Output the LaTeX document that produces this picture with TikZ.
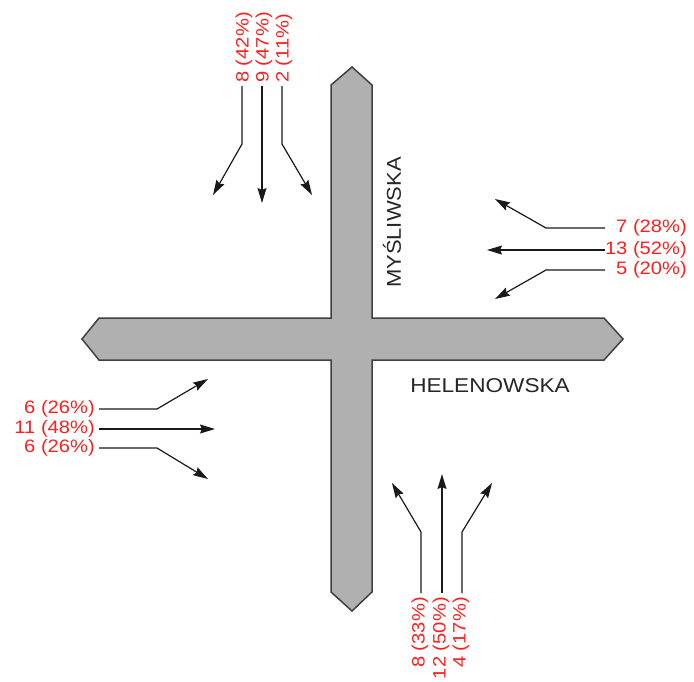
\documentclass[tikz,border=0pt]{standalone}
\usepackage{fontspec}
\setmainfont{Liberation Sans}
\usetikzlibrary{arrows.meta}
\definecolor{roadfill}{RGB}{176,176,176}
\definecolor{roadedge}{RGB}{64,64,64}
\definecolor{lblred}{RGB}{255,30,30}
\tikzset{
  road/.style={fill=roadfill,draw=roadedge,line width=1.5pt,line join=miter},
  arr/.style={draw=black!90,line width=1.2pt,-{Stealth[length=15pt,width=9pt,inset=2pt]}},
  lbl/.style={text=lblred,inner sep=0pt,font=\fontsize{18}{20}\selectfont},
  street/.style={text=black!85,inner sep=0pt,font=\fontsize{20}{22}\selectfont}
}
\newcommand{\wtxt}[1]{\scalebox{1.12}[1]{#1}}
\begin{document}
\begin{tikzpicture}[x=1pt,y=-1pt]
\useasboundingbox (0,0) rectangle (694,681);
% road cross
\draw[road] (352,67) -- (372,85) -- (372,318) -- (604,318) -- (623,339) -- (604,360)
  -- (372,360) -- (372,592) -- (352,611) -- (331,592) -- (331,360) -- (99,360)
  -- (82,339) -- (99,318) -- (331,318) -- (331,85) -- cycle;
% street names
\node[street,rotate=90] (mys) at (392,222.5) {\scalebox{1.1}[1]{MYŚLIWSKA}};
\node[street] (hel) at (490,386) {\scalebox{1.13}[1]{HELENOWSKA}};
% north approach
\coordinate (n1s) at (242,86); \coordinate (n1b) at (242,144); \coordinate (n1e) at (213,195);
\coordinate (n2s) at (262,86); \coordinate (n2e) at (262,203);
\coordinate (n3s) at (282,86); \coordinate (n3b) at (282,144); \coordinate (n3e) at (312,195);
\draw[arr] (n1s) -- (n1b) -- (n1e);
\draw[arr] (n2s) -- (n2e);
\draw[arr] (n3s) -- (n3b) -- (n3e);
\node[lbl,rotate=90,anchor=west] (ln1) at (244,83) {\wtxt{8 (42\%)}};
\node[lbl,rotate=90,anchor=west] (ln2) at (264,83) {\wtxt{9 (47\%)}};
\node[lbl,rotate=90,anchor=west] (ln3) at (284,83) {\wtxt{2 (11\%)}};
% east approach
\coordinate (e1s) at (605,228); \coordinate (e1b) at (546,228); \coordinate (e1e) at (495,199);
\coordinate (e2s) at (605,250); \coordinate (e2e) at (487,250);
\coordinate (e3s) at (605,270); \coordinate (e3b) at (546,270); \coordinate (e3e) at (495,299);
\draw[arr] (e1s) -- (e1b) -- (e1e);
\draw[arr] (e2s) -- (e2e);
\draw[arr] (e3s) -- (e3b) -- (e3e);
\node[lbl,anchor=east] (le1) at (687,228) {\wtxt{7 (28\%)}};
\node[lbl,anchor=east] (le2) at (687,250) {\wtxt{13 (52\%)}};
\node[lbl,anchor=east] (le3) at (687,270) {\wtxt{5 (20\%)}};
% west approach
\coordinate (w1s) at (99,409); \coordinate (w1b) at (157,409); \coordinate (w1e) at (208,379);
\coordinate (w2s) at (99,429); \coordinate (w2e) at (215,429);
\coordinate (w3s) at (99,448); \coordinate (w3b) at (157,448); \coordinate (w3e) at (208,479);
\draw[arr] (w1s) -- (w1b) -- (w1e);
\draw[arr] (w2s) -- (w2e);
\draw[arr] (w3s) -- (w3b) -- (w3e);
\node[lbl,anchor=east] (lw1) at (95,409) {\wtxt{6 (26\%)}};
\node[lbl,anchor=east] (lw2) at (95,429) {\wtxt{11 (48\%)}};
\node[lbl,anchor=east] (lw3) at (95,448) {\wtxt{6 (26\%)}};
% south approach
\coordinate (s1s) at (421,593); \coordinate (s1b) at (421,532); \coordinate (s1e) at (392,483);
\coordinate (s2s) at (442,593); \coordinate (s2e) at (442,474);
\coordinate (s3s) at (462,593); \coordinate (s3b) at (462,532); \coordinate (s3e) at (492,483);
\draw[arr] (s1s) -- (s1b) -- (s1e);
\draw[arr] (s2s) -- (s2e);
\draw[arr] (s3s) -- (s3b) -- (s3e);
\node[lbl,rotate=90,anchor=east] (ls1) at (420,597) {\wtxt{8 (33\%)}};
\node[lbl,rotate=90,anchor=east] (ls2) at (441,597) {\wtxt{12 (50\%)}};
\node[lbl,rotate=90,anchor=east] (ls3) at (461,597) {\wtxt{4 (17\%)}};
\end{tikzpicture}
\end{document}
